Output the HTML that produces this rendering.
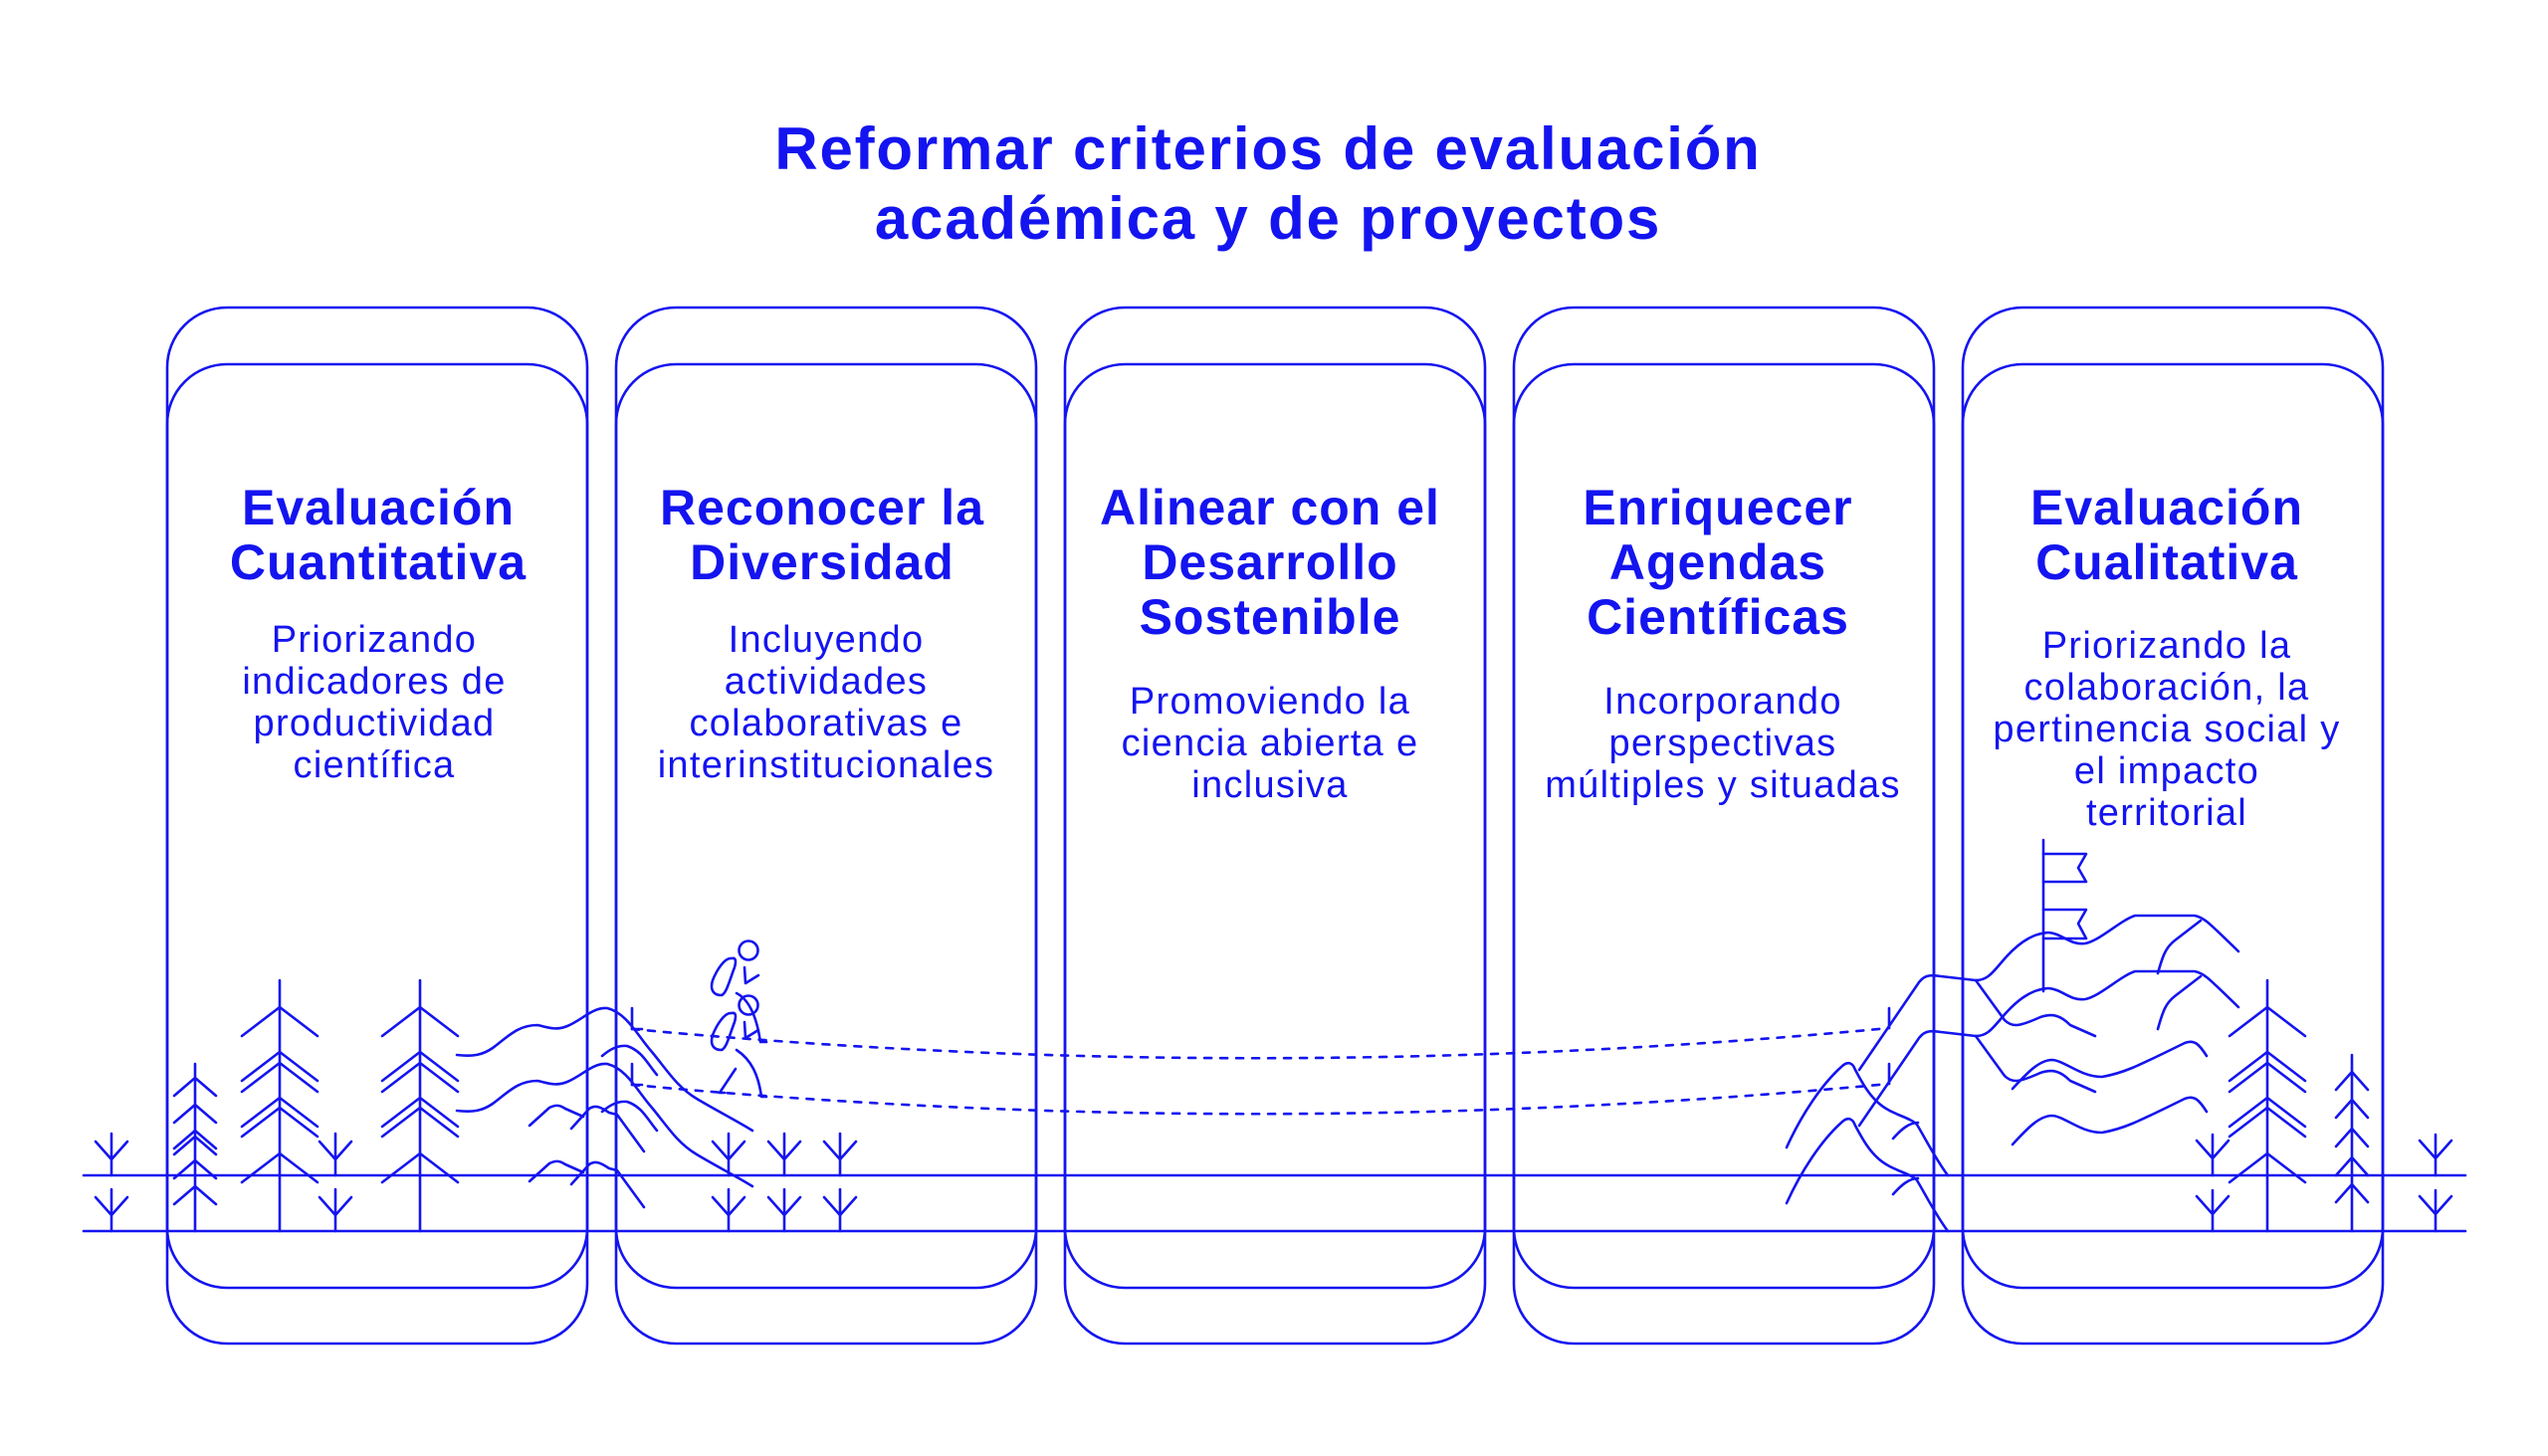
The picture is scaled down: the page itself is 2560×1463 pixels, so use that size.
<!DOCTYPE html>
<html><head><meta charset="utf-8"><style>
html,body{margin:0;padding:0;background:#fff;}
svg{display:block;}
text{font-family:"Liberation Sans",sans-serif;fill:#1414f0;text-anchor:middle;}
.h{font-weight:bold;font-size:50px;letter-spacing:1px;}
.s{font-size:38px;letter-spacing:1.3px;}
.t{font-weight:bold;font-size:60px;letter-spacing:1.8px;}
</style></head><body>
<svg width="2560" height="1463" viewBox="0 0 2560 1463" xmlns="http://www.w3.org/2000/svg">
<g fill="none" stroke="#1414f0" stroke-width="2.6" stroke-linejoin="round" stroke-linecap="round">
<g id="card">
<rect x="168" y="309" width="422" height="985" rx="60"/>
<rect x="168" y="366" width="422" height="984" rx="60"/>
</g>
<use href="#card" x="451"/>
<use href="#card" x="902"/>
<use href="#card" x="1353"/>
<use href="#card" x="1804"/>
<line x1="84" y1="1181" x2="2477" y2="1181"/>
<line x1="84" y1="1237" x2="2477" y2="1237"/>
<g id="dots">
<path d="M635,1034 Q1266,1093 1898,1033" stroke-dasharray="7 9"/>
<path d="M635,1013 V1034 H645"/>
<path d="M1898,1013 V1033"/>
</g>
<use href="#dots" y="56"/>
<g id="sp">
<path d="M112,1139 V1181 M96,1147 L112,1165 L128,1147"/>
<path d="M337,1139 V1181 M321,1147 L337,1165 L353,1147"/>
<path d="M732,1139 V1181 M716,1147 L732,1165 L748,1147"/>
<path d="M788,1139 V1181 M772,1147 L788,1165 L804,1147"/>
<path d="M844,1139 V1181 M828,1147 L844,1165 L860,1147"/>
<path d="M2223,1140 V1181 M2207,1146 L2223,1164 L2239,1146"/>
<path d="M2447,1140 V1181 M2431,1146 L2447,1164 L2463,1146"/>
</g>
<use href="#sp" y="56"/>
<path d="M196,1069 V1237"/>
<path d="M175,1101 L196,1083 L217,1101 M175,1128 L196,1110 L217,1128 M175,1154 L196,1136 L217,1154 M175,1160 L196,1142 L217,1160 M175,1184 L196,1166 L217,1184 M175,1210 L196,1192 L217,1210"/>
<g id="bt">
<path d="M281,985 V1237"/>
<path d="M243,1041 L281,1012 L319,1041 M243,1086 L281,1057 L319,1086 M243,1097 L281,1068 L319,1097 M243,1132 L281,1103 L319,1132 M243,1142 L281,1113 L319,1142 M243,1188 L281,1159 L319,1188"/>
</g>
<use href="#bt" x="141"/>
<use href="#bt" x="1997"/>
<path d="M2363,1060 V1237"/>
<path d="M2347,1095 L2363,1077 L2379,1095 M2347,1123 L2363,1105 L2379,1123 M2347,1152 L2363,1134 L2379,1152 M2347,1181 L2363,1163 L2379,1181 M2347,1208 L2363,1190 L2379,1208"/>
<g id="lh">
<path d="M459,1060 C475,1062 485,1060 495,1053 C510,1042 520,1030 540,1030 C550,1032 558,1036 570,1031 C585,1025 595,1012 610,1013 C630,1018 640,1040 655,1057 C670,1075 680,1092 700,1104 C720,1116 740,1126 756,1136"/>
<path d="M605,1061 C612,1055 620,1050 630,1051 C645,1056 650,1068 660,1080"/>
<path d="M532,1131 L552,1113 C558,1110 562,1110 568,1114 L586,1122"/>
<path d="M574,1134 L592,1114 C598,1110 603,1112 612,1118 L620,1120 L647,1157"/>
</g>
<use href="#lh" y="56"/>
<g id="hk">
<circle cx="752" cy="955" r="9.5"/>
<path d="M748,972 L749,988 L762,980"/>
<path d="M735,963 C728,962 720,975 716,985 C713,995 717,1000 725,1000 C730,998 733,985 738,972 C740,965 739,962 735,963 Z"/>
</g>
<use href="#hk" y="55"/>
<path d="M740,998 C752,1004 760,1020 764,1047 L770,1047"/>
<path d="M740,1055 C755,1065 762,1080 765,1102 L770,1102"/>
<path d="M739,1074 L723,1098 L728,1098"/>
<path d="M2053,844 V996"/>
<path d="M2053,858 H2096 L2088,872 L2096,886 H2053 M2053,914 H2096 L2088,928 L2096,943 H2053"/>
<g id="rm">
<path d="M1795,1153 C1810,1120 1830,1090 1850,1072 C1856,1066 1861,1067 1864,1075 C1872,1090 1878,1100 1887,1108 C1900,1120 1918,1122 1926,1130 C1935,1145 1945,1165 1957,1181"/>
<path d="M1868,1075 L1926,990 C1932,980 1938,979 1950,981 L1985,985 C1995,985 2000,980 2010,968 C2025,950 2040,938 2058,937 C2072,938 2080,950 2095,948 C2110,945 2130,925 2145,920 L2205,920 C2215,922 2220,928 2249,956"/>
<path d="M1985,985 L2014,1025 C2022,1033 2030,1031 2050,1022 C2062,1018 2070,1020 2080,1030 L2105,1041"/>
<path d="M2022,1094 C2035,1080 2048,1065 2062,1065 C2075,1066 2090,1082 2112,1082 C2135,1078 2150,1070 2195,1048 C2205,1044 2210,1050 2217,1061"/>
<path d="M2168,978 C2173,960 2176,952 2185,945 L2211,925"/>
<path d="M1902,1144 C1910,1135 1918,1128 1927,1128"/>
</g>
<use href="#rm" y="56"/>
</g>
<text class="t" x="1274" y="170">Reformar criterios de evaluación</text>
<text class="t" x="1274" y="240">académica y de proyectos</text>
<text class="h" x="380" y="527">Evaluación</text>
<text class="h" x="380" y="582">Cuantitativa</text>
<text class="h" x="826" y="527">Reconocer la</text>
<text class="h" x="826" y="582">Diversidad</text>
<text class="h" x="1276" y="527">Alinear con el</text>
<text class="h" x="1276" y="582">Desarrollo</text>
<text class="h" x="1276" y="637">Sostenible</text>
<text class="h" x="1726" y="527">Enriquecer</text>
<text class="h" x="1726" y="582">Agendas</text>
<text class="h" x="1726" y="637">Científicas</text>
<text class="h" x="2177" y="527">Evaluación</text>
<text class="h" x="2177" y="582">Cualitativa</text>
<text class="s" x="376" y="655">Priorizando</text>
<text class="s" x="376" y="697">indicadores de</text>
<text class="s" x="376" y="739">productividad</text>
<text class="s" x="376" y="781">científica</text>
<text class="s" x="830" y="655">Incluyendo</text>
<text class="s" x="830" y="697">actividades</text>
<text class="s" x="830" y="739">colaborativas e</text>
<text class="s" x="830" y="781">interinstitucionales</text>
<text class="s" x="1276" y="717">Promoviendo la</text>
<text class="s" x="1276" y="759">ciencia abierta e</text>
<text class="s" x="1276" y="801">inclusiva</text>
<text class="s" x="1731" y="717">Incorporando</text>
<text class="s" x="1731" y="759">perspectivas</text>
<text class="s" x="1731" y="801">múltiples y situadas</text>
<text class="s" x="2177" y="661">Priorizando la</text>
<text class="s" x="2177" y="703">colaboración, la</text>
<text class="s" x="2177" y="745">pertinencia social y</text>
<text class="s" x="2177" y="787">el impacto</text>
<text class="s" x="2177" y="829">territorial</text>
</svg>
</body></html>
